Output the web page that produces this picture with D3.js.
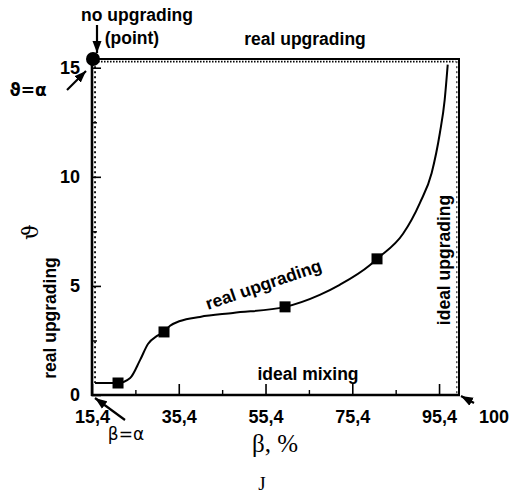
<!DOCTYPE html>
<html>
<head>
<meta charset="utf-8">
<script src="https://cdn.jsdelivr.net/npm/d3@7"></script>
<style>
  html, body { margin: 0; padding: 0; background: #fff; }
  svg { display: block; }
  text { fill: #000; }
</style>
</head>
<body>
<svg id="chart" width="515" height="495"></svg>
<script>
// ---- data ----
const curveBeta  = [16.1, 21.4, 24.2, 26.5, 28.3, 30.4, 32.0, 33.4, 35.7, 40.3, 47.9, 59.9, 67.9, 72.5, 79.5, 81.1, 87.1, 91.0, 93.7, 95.6, 96.7, 97.4];
const curveTheta = [0.55, 0.55, 0.78, 1.61, 2.34, 2.71, 2.89, 3.17, 3.39, 3.58, 3.76, 4.04, 4.59, 5.05, 5.96, 6.24, 7.39, 8.81, 10.18, 12.02, 13.53, 15.14];
const pointBeta  = [21.4, 32.0, 59.9, 81.1];
const pointTheta = [0.55, 2.89, 4.04, 6.24];
const xTicks = [15.4, 35.4, 55.4, 75.4, 95.4];
const xMinorTicks = [25.4, 45.4, 65.4, 85.4];
const yTicks = [0, 5, 10, 15];
const yMinorTicks = [2.5, 7.5, 12.5];
const alphaValue = 15.4;   // θ = α and β = α
const betaMax = 100;

// ---- layout ----
const svg = d3.select("#chart");
const x = d3.scaleLinear().domain([alphaValue, betaMax]).range([92, 459]);
const y = d3.scaleLinear().domain([0, alphaValue]).range([395, 59]);
const boldFont = "'Liberation Sans', Arial, sans-serif";
const serifFont = "'Liberation Serif', 'Times New Roman', serif";

// arrow marker
svg.append("defs").append("marker")
  .attr("id", "arr").attr("markerUnits", "userSpaceOnUse")
  .attr("viewBox", "0 -5 12 10").attr("refX", 12).attr("refY", 0)
  .attr("markerWidth", 12).attr("markerHeight", 10).attr("orient", "auto")
  .append("path").attr("d", "M0,-4.5L12,0L0,4.5Z").attr("fill", "#000");

// dotted "real upgrading" boundaries (inside frame)
svg.append("line")
  .attr("x1", x(16.1)).attr("x2", x(16.1))
  .attr("y1", y(15.3)).attr("y2", y(0.55))
  .attr("stroke", "#000").attr("stroke-width", 1.8).attr("stroke-dasharray", "2,3");
svg.append("line")
  .attr("x1", x(16.1)).attr("x2", x(99.2))
  .attr("y1", y(15.28)).attr("y2", y(15.28))
  .attr("stroke", "#000").attr("stroke-width", 1.6).attr("stroke-dasharray", "1.5,1.5");
svg.append("line")
  .attr("x1", x(99.5)).attr("x2", x(99.5))
  .attr("y1", y(15.3)).attr("y2", y(0))
  .attr("stroke", "#000").attr("stroke-width", 1).attr("stroke-dasharray", "2,3");

// frame: top (real upgrading) and right (ideal upgrading)
svg.append("line")
  .attr("x1", x(alphaValue)).attr("x2", x(betaMax))
  .attr("y1", y(alphaValue)).attr("y2", y(alphaValue))
  .attr("stroke", "#000").attr("stroke-width", 2);
svg.append("line")
  .attr("x1", x(betaMax)).attr("x2", x(betaMax))
  .attr("y1", y(alphaValue) - 1).attr("y2", y(0))
  .attr("stroke", "#000").attr("stroke-width", 2);

// axes
const fmt = d => String(d).replace(".", ",");
const xAxis = svg.append("g").attr("transform", `translate(0,${y(0)})`)
  .call(d3.axisBottom(x).tickValues(xTicks).tickFormat(fmt)
    .tickSizeInner(-11).tickSizeOuter(0).tickPadding(15));
const xMinor = svg.append("g").attr("transform", `translate(0,${y(0)})`)
  .call(d3.axisBottom(x).tickValues(xMinorTicks).tickFormat("")
    .tickSizeInner(-5).tickSizeOuter(0));
const yAxis = svg.append("g").attr("transform", `translate(${x(alphaValue)},0)`)
  .call(d3.axisLeft(y).tickValues(yTicks)
    .tickSizeInner(-9).tickSizeOuter(0).tickPadding(12));
const yMinor = svg.append("g").attr("transform", `translate(${x(alphaValue)},0)`)
  .call(d3.axisLeft(y).tickValues(yMinorTicks).tickFormat("")
    .tickSizeInner(-5).tickSizeOuter(0));
[xAxis, yAxis].forEach(g => {
  g.select(".domain").attr("stroke-width", 2.6);
  g.selectAll(".tick line").attr("stroke-width", 1.6);
  g.selectAll(".tick text").attr("font-family", boldFont)
    .attr("font-weight", "bold").attr("font-size", 18);
});
[xMinor, yMinor].forEach(g => {
  g.select(".domain").remove();
  g.selectAll(".tick line").attr("stroke-width", 1.4);
});
xAxis.select(".domain").attr("d", `M${x(alphaValue) - 1},0H${x(betaMax) + 1}`);
yAxis.select(".domain").attr("d", `M0,${y(0) + 1}V${y(alphaValue)}`);

// curve
const line = d3.line().x((d, i) => x(curveBeta[i])).y((d, i) => y(curveTheta[i]))
  .curve(d3.curveMonotoneX);
svg.append("path").datum(curveBeta).attr("d", line)
  .attr("fill", "none").attr("stroke", "#000").attr("stroke-width", 2);

// square markers
svg.selectAll("rect.pt").data(pointBeta).join("rect").attr("class", "pt")
  .attr("x", (d) => x(d) - 5.5).attr("y", (d, i) => y(pointTheta[i]) - 5.5)
  .attr("width", 11).attr("height", 11).attr("fill", "#000");

// no-upgrading point
svg.append("circle").attr("cx", x(alphaValue) + 1).attr("cy", y(alphaValue))
  .attr("r", 7).attr("fill", "#000");

// labels
function label(txt, px, py, opts = {}) {
  const t = svg.append("text").text(txt)
    .attr("x", px).attr("y", py)
    .attr("text-anchor", opts.anchor || "middle")
    .attr("font-family", opts.family || boldFont)
    .attr("font-weight", opts.weight || "bold")
    .attr("font-size", opts.size || 17.5);
  if (opts.rotate !== undefined) t.attr("transform", `rotate(${opts.rotate},${px},${py})`);
  return t;
}
label("no upgrading", 137, 21);
label("(point)", 132, 44);
label("real upgrading", 305, 45);
label("ideal mixing", 308, 380);
label("real upgrading", 56, 318, { rotate: -90 });
label("ideal upgrading", 450, 260, { rotate: -90 });
label("real upgrading", 208, 310, { anchor: "start", rotate: -19, size: 17.5 });
label("\u03D1=\u03B1", 28, 96, { family: "'DejaVu Sans', sans-serif", size: 17 });
label("\u03B2=\u03B1", 126, 440, { family: "'DejaVu Sans', sans-serif", size: 17, weight: "normal" });
label("100", 494, 423, { size: 18 });
label("\u03D1", 38, 232, { family: "'DejaVu Serif', serif", weight: "normal", size: 22, rotate: -90 });
label("\u03B2, %", 275, 452, { family: serifFont, weight: "normal", size: 25 });
label("J", 262, 490, { family: serifFont, weight: "normal", size: 19 });

// arrows
function arrow(x1, y1, x2, y2) {
  svg.append("line").attr("x1", x1).attr("y1", y1).attr("x2", x2).attr("y2", y2)
    .attr("stroke", "#000").attr("stroke-width", 2.2).attr("marker-end", "url(#arr)");
}
arrow(97, 25, 97, 53);
arrow(67, 90, 86, 71);
arrow(125, 420, 95, 398);
arrow(474, 403, 461, 396);
</script>
</body>
</html>
